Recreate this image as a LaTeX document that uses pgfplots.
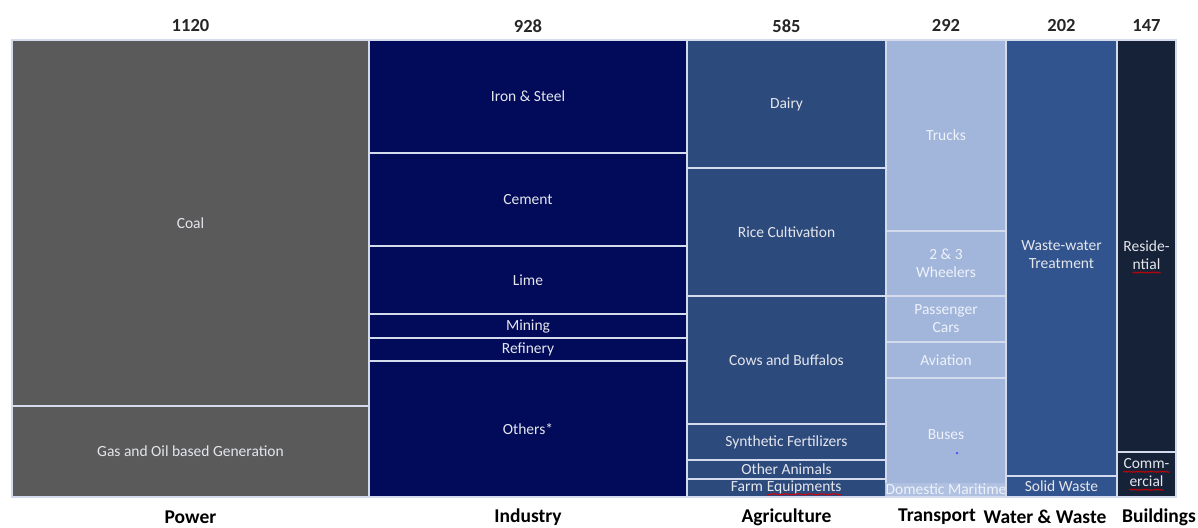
\documentclass[border=0pt]{standalone}
\usepackage{pgfplots}
\pgfplotsset{compat=1.18}
\usetikzlibrary{decorations.pathmorphing}
\usepackage{fontspec}
\setmainfont{Carlito}
\definecolor{cpow}{HTML}{5A5A5A}
\definecolor{cind}{HTML}{020B59}
\definecolor{cagr}{HTML}{2D4A7D}
\definecolor{ctra}{HTML}{A2B5DB}
\definecolor{cwat}{HTML}{31548E}
\definecolor{cbld}{HTML}{162238}
\definecolor{sep}{HTML}{D3DBEC}
\definecolor{labc}{HTML}{E4E6EC}
\definecolor{labt}{HTML}{EEF2FA}
\definecolor{numc}{HTML}{262626}
\newcommand{\redwave}[1]{\tikz[baseline=(t.base)]{\node[inner sep=0pt, text=labc] (t) {#1};
  \draw[red!85!black, line width=0.6pt, decorate, decoration={snake, amplitude=0.7pt, segment length=2.4pt}]
    ([yshift=-3.2pt]t.base west) -- ([yshift=-3.2pt]t.base east);}}
\tikzset{
  lab/.style={text=labc, font=\fontsize{15.5}{18}\selectfont, align=center, inner sep=0pt},
  labT/.style={text=labt, font=\fontsize{15.5}{18}\selectfont, align=center, inner sep=0pt},
}
% \seg{x0}{x1}{y0}{y1}{fill}{label style}{label}
\newcommand{\seg}[7]{%
  \addplot[fill=#5, draw=sep, line width=1.4pt] coordinates {(#1,#3) (#2,#3) (#2,#4) (#1,#4)} -- cycle;
  \pgfmathsetmacro\mx{(#1+#2)/2}\pgfmathsetmacro\my{(#3+#4)/2}%
  \edef\tmp{\noexpand\node[#6] at (axis cs:\mx,\my) {\unexpanded{#7}};}\tmp
}
\begin{document}
\begin{tikzpicture}
\useasboundingbox (0,0) rectangle (1198pt,527pt);
\begin{axis}[
  at={(12pt,30pt)}, anchor=south west,
  scale only axis, width=1164pt, height=457pt,
  xmin=0, xmax=1164, ymin=0, ymax=100,
  hide axis, clip=false,
]
% Power (1120)
\seg{0}{357}{0}{19.9}{cpow}{lab}{Gas and Oil based Generation}
\seg{0}{357}{19.9}{100}{cpow}{lab}{Coal}
% Industry (928)
\seg{357}{675}{0}{29.8}{cind}{lab}{Others*}
\seg{357}{675}{29.8}{34.8}{cind}{lab}{Refinery}
\seg{357}{675}{34.8}{40.0}{cind}{lab}{Mining}
\seg{357}{675}{40.0}{54.9}{cind}{lab}{Lime}
\seg{357}{675}{54.9}{75.3}{cind}{lab}{Cement}
\seg{357}{675}{75.3}{100}{cind}{lab}{Iron \& Steel}
% Agriculture (585)
\seg{675}{874}{0}{3.9}{cagr}{lab}{}
\seg{675}{874}{3.9}{8.1}{cagr}{lab}{Other Animals}
\seg{675}{874}{8.1}{16.0}{cagr}{lab}{Synthetic Fertilizers}
\seg{675}{874}{16.0}{44.0}{cagr}{lab}{Cows and Buffalos}
\seg{675}{874}{44.0}{72.0}{cagr}{lab}{Rice Cultivation}
\seg{675}{874}{72.0}{100}{cagr}{lab}{Dairy}
\node[lab] at (axis cs:774.5,2.0) {Farm \redwave{Equipments}};
% Transport (292)
\seg{874}{994}{0}{1.5}{ctra}{labT}{}
\seg{874}{994}{1.5}{26.0}{ctra}{labT}{Buses}
\seg{874}{994}{26.0}{33.9}{ctra}{labT}{Aviation}
\seg{874}{994}{33.9}{44.0}{ctra}{labT}{Passenger\\Cars}
\seg{874}{994}{44.0}{58.2}{ctra}{labT}{2 \& 3\\Wheelers}
\seg{874}{994}{58.2}{100}{ctra}{labT}{Trucks}
\node[labT, fill=ctra!85!white, inner sep=1pt] at (axis cs:934,1.6) {Domestic Maritime};
\addplot[only marks, mark=*, mark size=1pt, color=blue!70!white] coordinates {(945,9.6)};
% Water & Waste (202)
\seg{994}{1105}{0}{4.6}{cwat}{lab}{Solid Waste}
\seg{994}{1105}{4.6}{100}{cwat}{lab}{}
\node[lab] at (axis cs:1049.5,53.0) {Waste-water\\Treatment};
% Buildings (147)
\seg{1105}{1164}{0}{9.85}{cbld}{lab}{}
\seg{1105}{1164}{9.85}{100}{cbld}{lab}{}
\node[lab] at (axis cs:1134.5,4.9) {\redwave{Comm-}\\\redwave{ercial}};
\node[lab] at (axis cs:1134.5,52.5) {Reside-\\\redwave{ntial}};
% totals
\foreach \xx/\tt in {178.5/1120, 516/928, 774.5/585, 934/292, 1049.5/202, 1134.5/147}{
  \edef\tmp{\noexpand\node[text=numc, font=\noexpand\fontsize{18.5}{20}\noexpand\selectfont\noexpand\bfseries] at (axis cs:\xx,103.1) {\tt};}\tmp
}
% category labels
\foreach \xx/\tt in {178.5/Power, 516/Industry, 774.5/Agriculture, 925/Transport, 1033/Water \& Waste, 1147/Buildings}{
  \edef\tmp{\noexpand\node[text=black, font=\noexpand\fontsize{19.5}{21}\noexpand\selectfont\noexpand\bfseries] at (axis cs:\xx,-4.4) {\unexpanded\expandafter{\tt}};}\tmp
}
\end{axis}
\end{tikzpicture}
\end{document}
